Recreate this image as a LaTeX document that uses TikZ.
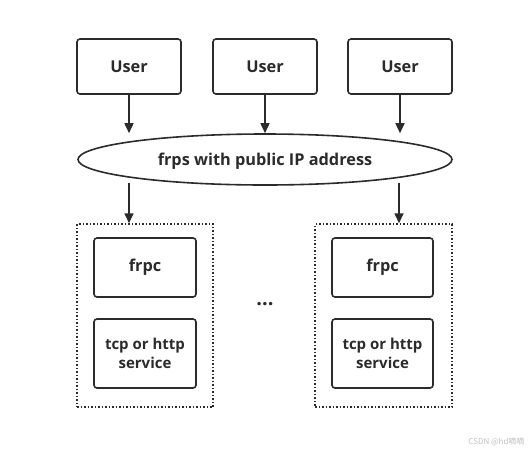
\documentclass[tikz,border=0pt]{standalone}
\usepackage{fontspec}
\setmainfont{Open Sans}
\newfontfamily\cjk{Noto Sans CJK SC}
\usetikzlibrary{shapes.geometric,arrows.meta}
\definecolor{ink}{HTML}{2B2B2B}
\begin{document}
\begin{tikzpicture}[x=1pt,y=-1pt,
  box/.style={draw=ink,line width=1.6pt,rounded corners=3pt,inner sep=0pt,text=ink,font=\bfseries\fontsize{16.3}{19}\selectfont,align=center},
  grp/.style={draw=ink,line width=1.5pt,dotted,inner sep=0pt},
  arr/.style={draw=ink,line width=1.6pt,-{Triangle[length=10pt,width=9pt]}}]
\useasboundingbox (0,0) rectangle (532,456);
\node[box,minimum width=104pt,minimum height=55pt] (u1) at (129,66.5) {User};
\node[box,minimum width=104pt,minimum height=55pt] (u2) at (265,66.5) {User};
\node[box,minimum width=104pt,minimum height=55pt] (u3) at (400,66.5) {User};
\node[ellipse,draw=ink,line width=1.6pt,minimum width=374pt,minimum height=51pt,inner sep=0pt] (s) at (265,159.5) {};
\node[text=ink,font=\bfseries\fontsize{16.3}{19}\selectfont] (st) at (265,161.5) {frps with public IP address};
\node[grp,minimum width=136pt,minimum height=183pt] (g1) at (145,315.5) {};
\node[grp,minimum width=137pt,minimum height=183pt] (g2) at (383.5,315.5) {};
\node[box,minimum width=102pt,minimum height=59pt] (c1) at (145,267.5) {frpc};
\node[box,minimum width=102pt,minimum height=69pt,font=\bfseries\fontsize{15}{19}\selectfont] (v1) at (145,353.5) {tcp or http\\service};
\node[box,minimum width=101pt,minimum height=59pt] (c2) at (382.5,267.5) {frpc};
\node[box,minimum width=101pt,minimum height=69pt,font=\bfseries\fontsize{15}{19}\selectfont] (v2) at (382.5,353.5) {tcp or http\\service};
\node[text=ink,font=\bfseries\fontsize{20}{20}\selectfont] (dots) at (265,304) {...};
\coordinate (e1) at (129,182.5);
\coordinate (e3) at (399,182.5);
\draw[arr] (u1.south) -- (u1.south |- s.north);
\draw[arr] (u2.south) -- (s.north);
\draw[arr] (u3.south) -- (u3.south |- s.north);
\draw[arr] (e1) -- (e1 |- g1.north);
\draw[arr] (e3) -- (e3 |- g2.north);
\node[text=black!25,font=\cjk\fontsize{8}{9}\selectfont,anchor=east] (wm) at (528,442) {CSDN @hd嘀嘀};
\end{tikzpicture}
\end{document}
